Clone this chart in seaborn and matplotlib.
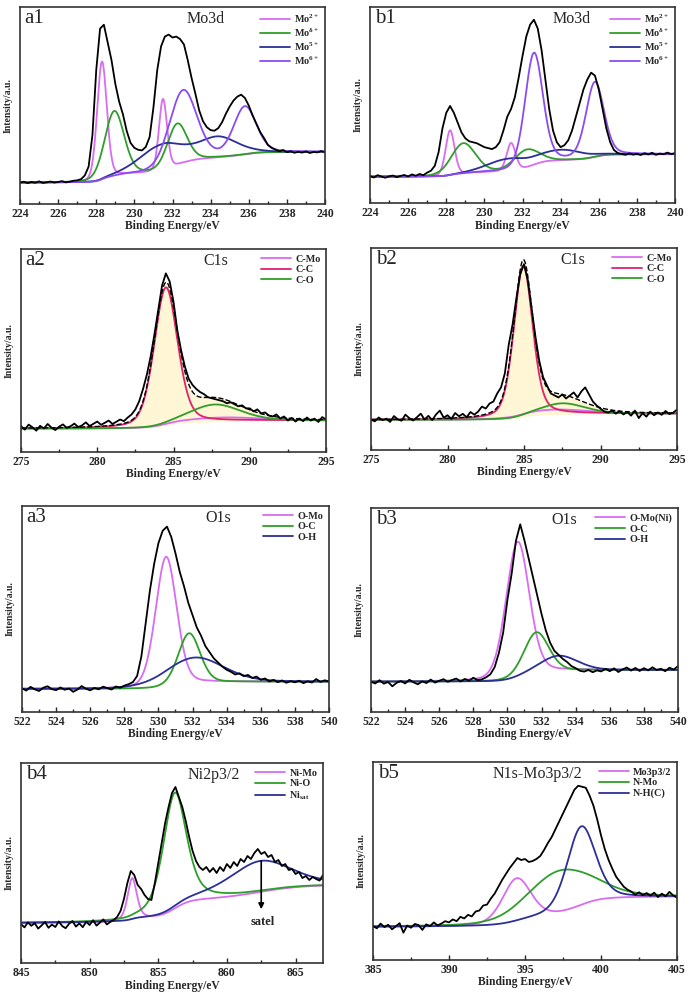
import numpy as np
import matplotlib
matplotlib.use("Agg")
import matplotlib.pyplot as plt
from matplotlib.ticker import MultipleLocator
import seaborn as sns

# ---------------- data (intensity in % of panel height) ----------------
# a1  Mo3d
a1_range = (224, 240)
a1_raw = [10.9, 11.3, 10.6, 11.2, 10.8, 11.5, 10.7, 11.0, 11.4, 10.9, 11.2, 11.6, 11.0, 11.3, 11.8, 12.0,
          12.6, 14.5, 19, 35, 68, 89, 91, 82, 73, 61,
          52, 45.5, 37, 31, 28.5, 27.5, 27.2, 29, 34, 49,
          68, 80, 85, 86, 84.5, 85, 83.7, 81, 73, 64,
          56, 47.5, 42, 39, 37.5, 37.2, 38.5, 41.5, 45.8, 49.5,
          52.5, 54.5, 55.5, 53.8, 50, 45, 40.7, 36.5, 33.5, 30,
          28.5, 27.6, 26.8, 27.4, 26.3, 26.8, 26.0, 26.5, 26.1, 26.7,
          25.9, 26.4, 26.2, 26.9, 26.3]
a1_names = [r"Mo$^{2+}$", r"Mo$^{\delta+}$", r"Mo$^{5+}$", r"Mo$^{6+}$"]
a1_centers = [[228.3, 231.5], [228.95, 232.25], [231.4, 234.4], [232.55, 235.8]]
a1_heights = [[60, 36], [33, 21], [13, 10], [37, 24]]
a1_widths = [[0.6, 0.5], [1.2, 1.2], [2.6, 2.4], [1.7, 1.4]]
a1_bg = (10.8, 26.4)

# b1  Mo3d
b1_range = (224, 240)
b1_raw = [13.8, 13.0, 14.2, 13.5, 12.9, 13.6, 14.0, 13.2, 13.8, 14.3, 13.5, 14.6, 13.9, 14.8, 14.2,
          15.5, 16.5, 19, 26, 38, 46, 49.5, 46, 41, 36,
          33, 31.5, 31, 30.5, 29.5, 28.5, 28, 27.5, 28.5, 31,
          37, 44, 48, 54, 64, 75, 85, 91, 93.5, 89,
          78, 63, 48, 37, 31, 28.5, 29.5, 32, 37, 44,
          51, 58, 63, 66.5, 65, 58, 48, 38, 31, 27,
          25.5, 25, 24.6, 25.3, 24.7, 25.1, 24.5, 25.4, 24.8, 25.6,
          24.6, 25.2, 24.9, 25.7, 25.0, 25.4]
b1_names = a1_names
b1_centers = [[228.2, 231.4], [228.9, 232.2], [231.2, 234.1], [232.6, 235.8]]
b1_heights = [[23, 14], [15.5, 9], [6, 5], [57, 38]]
b1_widths = [[0.55, 0.55], [1.5, 1.5], [2.5, 2.5], [1.1, 1.1]]
b1_bg = (13.4, 24.9)

# a2  C1s
a2_range = (275, 295)
a2_raw = [12.8, 11.0, 13.5, 12.2, 10.5, 12.9, 11.6, 13.8, 12.0, 10.8, 12.5, 13.6, 11.9, 12.7,
          14.0, 12.3, 13.1, 14.6, 12.8, 13.9, 15.0, 13.4, 14.4, 15.5, 13.8, 14.9, 16.0, 15.2,
          17, 18.5, 21, 25, 31, 38, 47, 58, 70, 82,
          88, 84, 74, 60, 50, 42, 36, 33, 31, 29.5,
          28.5, 27, 26.5, 26, 25.5, 25, 24, 24.5, 23.5, 22.5,
          23, 21.5, 21.5, 20, 21, 19, 19.5, 18, 17.5, 18.5,
          16.5, 17.5, 15.5, 16.8, 15, 16.5, 15.2, 17, 15.5, 16.4,
          14.8, 17.2, 16]
a2_names = ["C-Mo", "C-C", "C-O"]
a2_centers = [[288.0], [284.5], [287.7]]
a2_heights = [[2.0], [68], [8.5]]
a2_widths = [[6.0], [1.8], [4.0]]
a2_bg = (11.5, 15.5)

# b2  C1s
b2_range = (275, 295)
b2_raw = [15.0, 14.2, 16.1, 14.8, 15.5, 13.9, 16.8, 15.2, 14.5, 17.5, 15.8, 14.6, 16.2, 18.0,
          15.1, 16.9, 14.8, 17.6, 19.5, 16.0, 17.2, 15.4, 18.3, 16.7, 17.9, 16.2, 18.8, 17.5,
          19, 21.5, 20.5, 23, 24, 28, 31, 38, 52, 62,
          75, 87, 92, 84, 70, 56, 44, 36, 32, 28,
          27, 26, 27.5, 25.5, 27, 28.5, 26, 29, 31, 27.5,
          24, 22, 20.5, 19, 18.5, 19.5, 18, 19.2, 17.6, 18.8,
          17, 19.5, 15.8, 18.2, 16.5, 19.0, 17.2, 18.6, 17.4, 19.3,
          17.8, 18.5, 20]
b2_names = a2_names
b2_centers = [[287.0], [284.95], [287.5]]
b2_heights = [[2.5], [75], [5.5]]
b2_widths = [[5.0], [1.45], [3.5]]
b2_bg = (14.9, 18.0)

# a3  O1s
a3_range = (522, 540)
a3_raw = [11.5, 10.4, 12.2, 11.0, 10.2, 11.8, 12.5, 11.1, 10.6, 11.9, 10.8, 11.4, 9.8, 10.9,
          12.6, 11.3, 10.5, 11.7, 11.0, 12.3, 11.6, 10.9, 12.4, 11.8, 12.8,
          13.5, 14.5, 17.5, 27, 43, 59, 72, 82, 88, 90,
          85, 77, 68, 61, 53, 47, 41, 37, 32, 29,
          26, 24, 22, 20.5, 19.5, 18.2, 18.8, 17.4, 18.0, 16.5,
          17.2, 15.6, 16.3, 14.8, 15.6, 14.5, 15.3, 14.2, 15.0, 14.4,
          15.2, 14.0, 14.9, 14.3, 16.0, 14.6, 15.4, 14.8]
a3_names = ["O-Mo", "O-C", "O-H"]
a3_centers = [[530.45], [531.8], [532.1]]
a3_heights = [[63], [24.5], [12.5]]
a3_widths = [[1.45], [1.5], [4.0]]
a3_bg = (11.2, 14.7)

# b3  O1s
b3_range = (522, 540)
b3_raw = [14.8, 14.0, 15.6, 13.9, 14.7, 12.6, 14.3, 15.2, 14.0, 15.8, 14.5, 13.6, 15.0, 14.2,
          15.9, 14.4, 15.3, 16.1, 14.8, 15.7, 16.4, 15.0, 16.2, 15.4, 16.8, 15.6, 16.0,
          17, 18.5, 22, 29, 39, 55, 68, 84, 92, 84,
          75, 66, 57, 48, 40, 34, 30, 28, 26, 24.5,
          22.5, 21.5, 20.2, 19.8, 20.6, 19.5, 20.4, 19.9, 21.2, 20.0,
          21.4, 19.6, 20.9, 21.8, 20.3, 21.6, 20.1, 21.5, 20.4, 21.9,
          20.6, 21.2, 20.0, 21.7, 20.8, 22.5]
b3_names = ["O-Mo(Ni)", "O-C", "O-H"]
b3_centers = [[530.6], [531.7], [533.0]]
b3_heights = [[66.5], [20], [7.5]]
b3_widths = [[1.6], [1.7], [2.6]]
b3_bg = (14.9, 20.6)

# b4  Ni2p3/2
b4_range = (845, 867)
b4_raw = [19.5, 17.8, 20.3, 18.6, 19.9, 17.2, 18.8, 20.5, 17.6, 19.2, 18.0, 20.8, 18.5, 17.4,
          19.6, 21.0, 18.2, 19.8, 17.9, 20.6, 19.0, 21.4, 18.7, 20.2, 21.8, 19.3, 20.5,
          21.5, 23, 26, 32, 40, 46, 44, 39, 37, 34,
          32, 31.5, 40, 50, 60, 70, 78, 85, 88, 83,
          78, 71, 63, 56, 51, 48, 46.5, 48, 45.5, 47.5,
          45, 48, 46, 49.5, 47.5, 50.5, 48.5, 52, 50.5, 53.5,
          52, 55, 57, 54.5, 55.5, 53, 54, 50.5, 51.5, 48.5,
          49.5, 46.5, 47, 44.5, 45.5, 42.5, 43.5, 41.5, 43, 42,
          41.2, 44]
b4_names = ["Ni-Mo", "Ni-O", r"Ni$_{\mathrm{sat}}$"]
b4_centers = [[853.1], [856.2], [862.4]]
b4_heights = [[21], [58], [15.5]]
b4_widths = [[0.8], [2.0], [5.5]]
b4_bg = (20.0, 38.7)

# b5  N1s-Mo3p3/2
b5_range = (385, 405)
b5_raw = [17.2, 16.0, 18.4, 16.6, 17.8, 15.5, 17.0, 18.6, 13.8, 17.4, 16.3, 18.2, 17.6, 15.2,
          18.0, 17.1, 19.0, 17.5, 18.4, 19.6,
          19.0, 20.5, 19.6, 21.8, 21.0, 22.8, 22.0, 24.5, 25.0, 27.5,
          28, 31, 33.5, 37, 40.5, 43.5, 46.5, 49, 51.5, 50.5,
          51, 49.5, 50, 51, 52.5, 55.5, 59, 62, 66, 70,
          74, 78, 82, 86, 88, 87.5, 87, 83, 78, 71,
          63, 56, 50.5, 46, 42, 39.5, 37, 35.5, 34.5, 33,
          34.2, 32.8, 33.8, 32.5, 34, 31.8, 33.5, 32.2, 34.4, 32.6,
          31.5]
b5_names = ["Mo3p3/2", "N-Mo", "N-H(C)"]
b5_centers = [[394.45], [397.3], [398.7]]
b5_heights = [[22], [21.5], [40]]
b5_widths = [[2.2], [5.0], [2.2]]
b5_bg = (16.8, 32.0)

# ---------------- style ----------------
VIOLET = "#d96cf2"
GREEN = "#2f9e2a"
NAVY = "#2b2f96"
PURPLE = "#8a4cf0"
CRIMSON = "#e0216c"

sns.set_style("ticks")
plt.rcParams["font.family"] = ["Liberation Serif", "DejaVu Serif"]
plt.rcParams["font.weight"] = "bold"
plt.rcParams["mathtext.fontset"] = "custom"
plt.rcParams["mathtext.rm"] = "Liberation Serif:bold"
plt.rcParams["mathtext.it"] = "Liberation Serif:bold"
plt.rcParams["mathtext.bf"] = "Liberation Serif:bold"


def pseudo_voigt(x, c, h, w, eta):
    g = np.exp(-4 * np.log(2) * (x - c) ** 2 / w ** 2)
    l = 1 / (1 + 4 * (x - c) ** 2 / w ** 2)
    return h * ((1 - eta) * g + eta * l)


def draw(ax, rng, raw, names, colors, centers, heights, widths, bg_lv, eta,
         letter, title, title_x, major, minor, envelope=False, fill=False):
    xf = np.linspace(rng[0], rng[1], 900)
    peaks = []
    for cs, hs, ws in zip(centers, heights, widths):
        p = np.zeros_like(xf)
        for c, h, w in zip(cs, hs, ws):
            p = p + pseudo_voigt(xf, c, h, w, eta)
        peaks.append(p)
    total = np.sum(peaks, axis=0)
    cum = np.cumsum(total)
    bg = bg_lv[0] + (bg_lv[1] - bg_lv[0]) * cum / cum[-1]   # Shirley-type background

    if fill:
        m = (xf > 282) & (xf < 292.5)
        ax.fill_between(xf[m], bg[m], (bg + total)[m], color="#fff4c8", alpha=0.75, lw=0)
    for p, name, col in zip(peaks, names, colors):
        sns.lineplot(x=xf, y=bg + p, ax=ax, color=col, lw=1.3, label=name)
    if envelope:
        sns.lineplot(x=xf, y=bg + total, ax=ax, color="black", lw=1.0, linestyle="--")
    xr = np.linspace(rng[0], rng[1], len(raw))
    sns.lineplot(x=xr, y=raw, ax=ax, color="black", lw=1.3)

    ax.set_xlim(*rng)
    ax.set_ylim(0, 100)
    ax.set_yticks([])
    ax.set_xticks(major)
    ax.xaxis.set_minor_locator(MultipleLocator(minor))
    ax.tick_params(axis="x", which="both", direction="in", top=False, labelsize=8.5, pad=3, width=1)
    ax.tick_params(axis="x", which="major", length=3.5)
    ax.tick_params(axis="x", which="minor", length=2)
    for s in ax.spines.values():
        s.set_visible(True)
        s.set_linewidth(1.2)
        s.set_color("#333333")
    hpx = ax.get_position().height * 992
    wpx = ax.get_position().width * 690
    ax.set_xlabel("Binding Energy/eV", fontsize=8.3, fontweight="bold")
    ax.set_ylabel("Intensity/a.u.", fontsize=7, fontweight="bold")
    ax.xaxis.set_label_coords(0.5, -16.5 / hpx)
    ax.yaxis.set_label_coords(-7 / wpx, 0.5)
    ax.text(0.015, 0.99, letter, transform=ax.transAxes, fontsize=15, fontweight="normal",
            ha="left", va="top")
    ax.text(title_x, 0.98, title, transform=ax.transAxes, fontsize=11.5, fontweight="normal",
            ha="center", va="top")
    ax.legend(loc="upper right", frameon=False, fontsize=7.3, handlelength=3.0, handletextpad=0.4,
              labelspacing=0.15, borderaxespad=0.15)


fig = plt.figure(figsize=(6.9, 9.92), dpi=100)


def box(l, t, r, b):
    return fig.add_axes([l / 690, 1 - b / 992, (r - l) / 690, (b - t) / 992])


ax = box(20, 7, 325, 204)
draw(ax, a1_range, a1_raw, a1_names, [VIOLET, GREEN, NAVY, PURPLE], a1_centers, a1_heights,
     a1_widths, a1_bg, 0.2, "a1", "Mo3d", 0.61, np.arange(224, 241, 2), 1)

ax = box(370, 7, 675, 203)
draw(ax, b1_range, b1_raw, b1_names, [VIOLET, GREEN, NAVY, PURPLE], b1_centers, b1_heights,
     b1_widths, b1_bg, 0.2, "b1", "Mo3d", 0.66, np.arange(224, 241, 2), 1)

ax = box(21, 249, 326, 452)
draw(ax, a2_range, a2_raw, a2_names, [VIOLET, CRIMSON, GREEN], a2_centers, a2_heights,
     a2_widths, a2_bg, 0.3, "a2", "C1s", 0.64, np.arange(275, 296, 5), 2.5, envelope=True, fill=True)

ax = box(371, 248, 677, 450)
draw(ax, b2_range, b2_raw, b2_names, [VIOLET, CRIMSON, GREEN], b2_centers, b2_heights,
     b2_widths, b2_bg, 0.35, "b2", "C1s", 0.66, np.arange(275, 296, 5), 2.5, envelope=True, fill=True)

ax = box(22, 506, 329, 712)
draw(ax, a3_range, a3_raw, a3_names, [VIOLET, GREEN, NAVY], a3_centers, a3_heights,
     a3_widths, a3_bg, 0.2, "a3", "O1s", 0.64, np.arange(522, 541, 2), 1)

ax = box(371, 508, 678, 712)
draw(ax, b3_range, b3_raw, b3_names, [VIOLET, GREEN, NAVY], b3_centers, b3_heights,
     b3_widths, b3_bg, 0.2, "b3", "O1s", 0.63, np.arange(522, 541, 2), 1)

ax = box(21, 763, 323, 963)
draw(ax, b4_range, b4_raw, b4_names, [VIOLET, GREEN, NAVY], b4_centers, b4_heights,
     b4_widths, b4_bg, 0.5, "b4", "Ni2p3/2", 0.64, np.arange(845, 866, 5), 2.5)
ax.annotate("", xy=(862.5, 25.5), xytext=(862.5, 52.5),
            arrowprops=dict(arrowstyle="-|>", color="black", lw=1.2, mutation_scale=8))
ax.text(862.6, 20.5, "satel", fontsize=9, fontweight="bold", ha="center", va="center")

ax = box(373, 762, 677, 960)
draw(ax, b5_range, b5_raw, b5_names, [VIOLET, GREEN, NAVY], b5_centers, b5_heights,
     b5_widths, b5_bg, 0.3, "b5", "N1s-Mo3p3/2", 0.54, np.arange(385, 406, 5), 2.5)

fig.savefig("out.png", dpi=100)
